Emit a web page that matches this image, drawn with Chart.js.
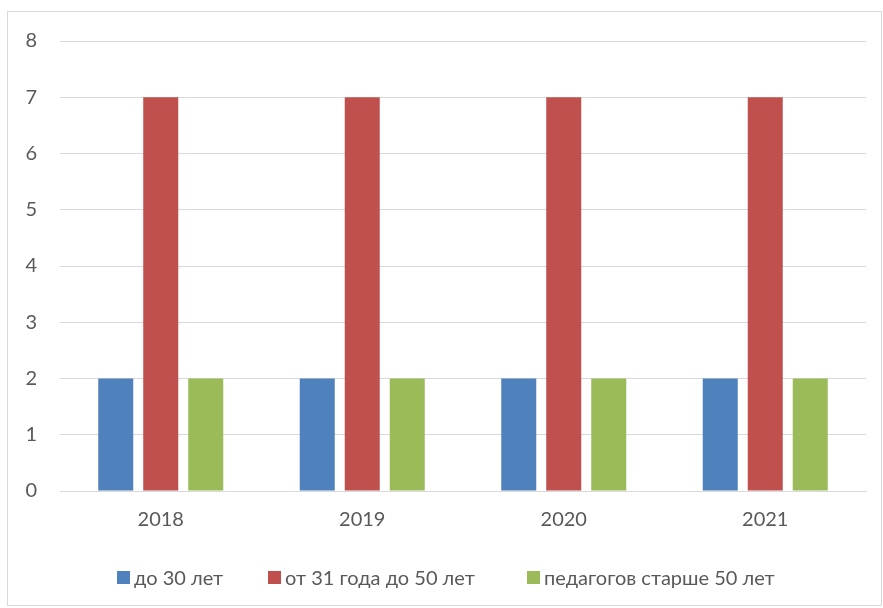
<!DOCTYPE html>
<html><head><meta charset="utf-8">
<script src="https://cdn.jsdelivr.net/npm/chart.js@4"></script>
<style>html,body{margin:0;padding:0;background:#fff}#wrap{position:relative;width:883px;height:608px}</style>
</head><body><div id="wrap"><canvas id="c" width="883" height="608"></canvas></div>
<script>
const categories = ['2018', '2019', '2020', '2021'];
const seriesNames = ['до 30 лет', 'от 31 года до 50 лет', 'педагогов старше 50 лет'];
const under30 = [2, 2, 2, 2];
const from31to50 = [7, 7, 7, 7];
const over50 = [2, 2, 2, 2];
const yTicks = [0, 1, 2, 3, 4, 5, 6, 7, 8];
const colors = ['#4F81BD', '#C0504D', '#9BBB59'];
const FONT = 'Lato, "Open Sans", sans-serif';
const TEXT = '#595959';

const framePlugin = {
  id: 'frame',
  beforeDraw(chart) {
    const ctx = chart.ctx;
    ctx.save();
    ctx.fillStyle = '#fff';
    ctx.fillRect(0, 0, chart.width, chart.height);
    ctx.strokeStyle = '#D9D9D9';
    ctx.lineWidth = 1;
    ctx.strokeRect(7.5, 11.5, 874, 594);
    ctx.restore();
  }
};

const legendPlugin = {
  id: 'customLegend',
  afterDraw(chart) {
    const ctx = chart.ctx;
    const xs = [117, 268, 527];
    const yc = 577.5;
    ctx.save();
    ctx.font = '20px ' + FONT;
    ctx.textBaseline = 'middle';
    ctx.textAlign = 'left';
    chart.data.datasets.forEach((ds, i) => {
      ctx.fillStyle = ds.backgroundColor;
      ctx.fillRect(xs[i], yc - 6.5, 13, 13);
      ctx.fillStyle = TEXT;
      ctx.fillText(ds.label, xs[i] + 17, yc + 1);
    });
    ctx.restore();
  }
};

new Chart(document.getElementById('c'), {
  type: 'bar',
  data: {
    labels: categories,
    datasets: [under30, from31to50, over50].map((d, i) => ({
      label: seriesNames[i], data: d, backgroundColor: colors[i], borderWidth: 0,
      categoryPercentage: 0.67, barPercentage: 0.778
    }))
  },
  plugins: [framePlugin, legendPlugin],
  options: {
    responsive: false, animation: false,
    layout: { padding: { left: 0, right: 17, top: 41, bottom: 67 } },
    scales: {
      x: {
        grid: { display: false, drawTicks: false },
        border: { display: true, color: '#D9D9D9', width: 1 },
        ticks: { color: TEXT, font: { family: FONT, size: 20 }, padding: 17 },
        afterFit(s) { s.height = 50; }
      },
      y: {
        min: 0, max: 8,
        afterBuildTicks(s) { s.ticks = yTicks.map(v => ({ value: v })); },
        grid: { color: '#D9D9D9', lineWidth: 1, drawTicks: false },
        border: { display: false },
        ticks: { color: TEXT, font: { family: FONT, size: 20 }, padding: 23 },
        afterFit(s) { s.width = 60; }
      }
    },
    plugins: {
      tooltip: { enabled: false },
      legend: { display: false }
    }
  }
});
</script></body></html>
